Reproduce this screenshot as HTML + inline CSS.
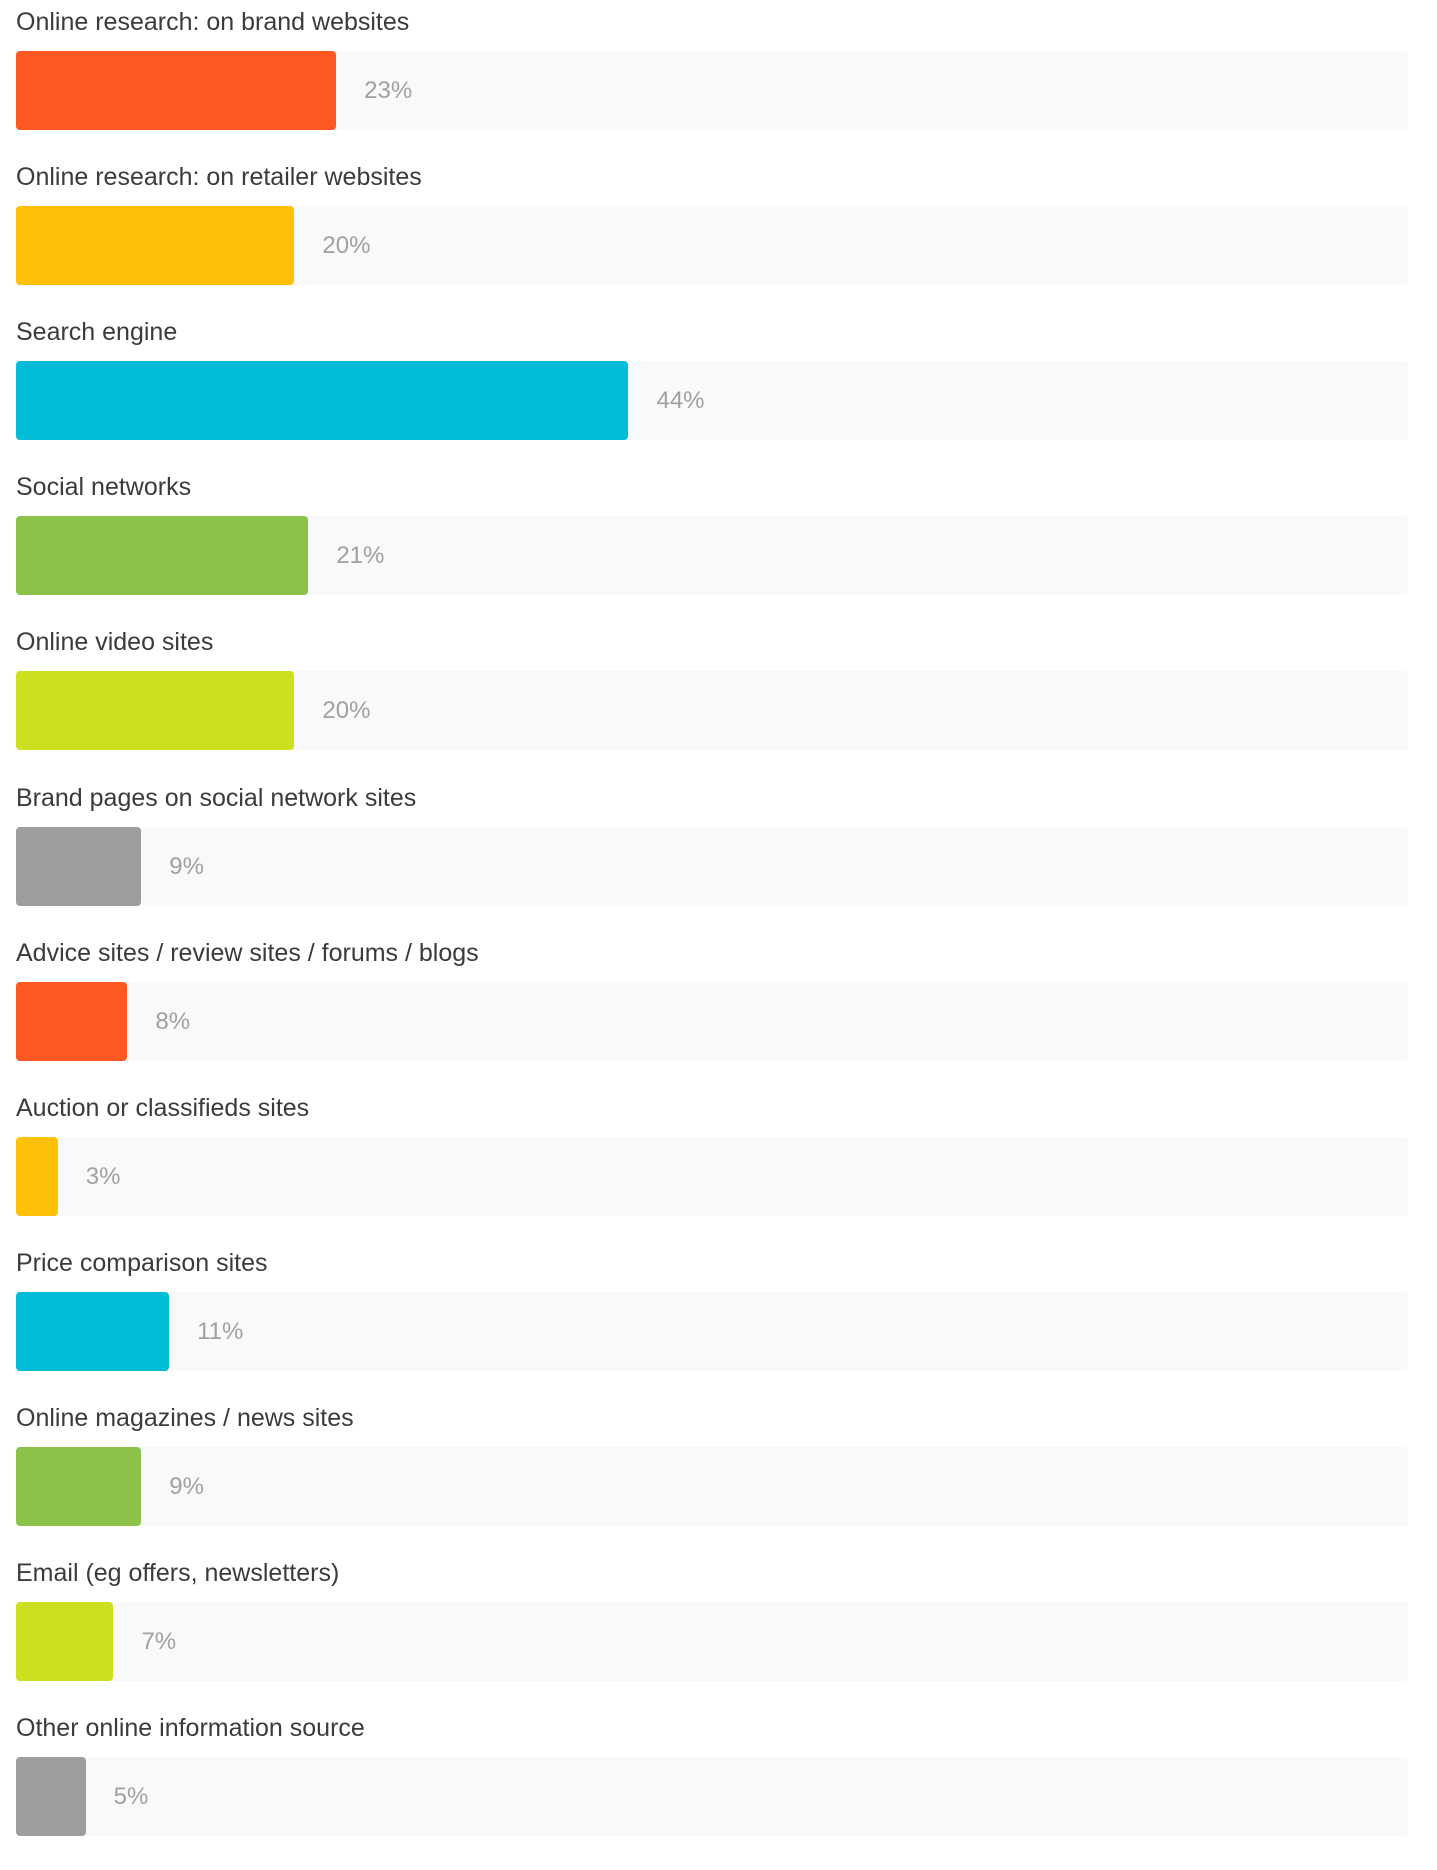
<!DOCTYPE html>
<html><head><meta charset="utf-8"><style>
html,body{margin:0;padding:0;background:#fff;width:1437px;height:1870px;overflow:hidden;font-family:"Liberation Sans",sans-serif}
.row{position:absolute;left:16px;width:1392px}
.lbl{position:absolute;left:0;font-size:25px;color:#3b3b3b;white-space:nowrap;line-height:30px}
.track{position:absolute;left:0;width:1392px;height:79px;background:#f8f9fb;border-radius:4px}
.bar{position:absolute;left:0;top:0;height:79px;border-radius:4px}
.val{position:absolute;top:0;line-height:79px;font-size:24px;color:#a0a0a0}
</style></head><body>
<div id="chart"></div>
<script>
const categories=["Online research: on brand websites","Online research: on retailer websites","Search engine","Social networks","Online video sites","Brand pages on social network sites","Advice sites / review sites / forums / blogs","Auction or classifieds sites","Price comparison sites","Online magazines / news sites","Email (eg offers, newsletters)","Other online information source"];
const values=[23,20,44,21,20,9,8,3,11,9,7,5];
const colors=["#ff5722","#ffc107","#03bcd7","#8bc34a","#cddf1f","#9e9e9e"];
const trackW=1392;
function xScale(v){return v/100*trackW;}
const root=document.getElementById('chart');
categories.forEach((c,i)=>{
  const top=i*155.1;
  const row=document.createElement('div');row.className='row';row.style.top=top+'px';
  
  
  const l=document.createElement('div');l.className='lbl';l.style.top='7px';l.textContent=c;
  
  
  const t=document.createElement('div');t.className='track';t.style.top='51px';
  
  
  const b=document.createElement('div');b.className='bar';b.style.width=xScale(values[i])+'px';b.style.background=colors[i%6];
  
  
  const v=document.createElement('div');v.className='val';v.style.left=(xScale(values[i])+28)+'px';v.textContent=values[i]+'%';
  
  
  t.appendChild(b);t.appendChild(v);row.appendChild(l);row.appendChild(t);root.appendChild(row);
});
</script>
</body></html>
